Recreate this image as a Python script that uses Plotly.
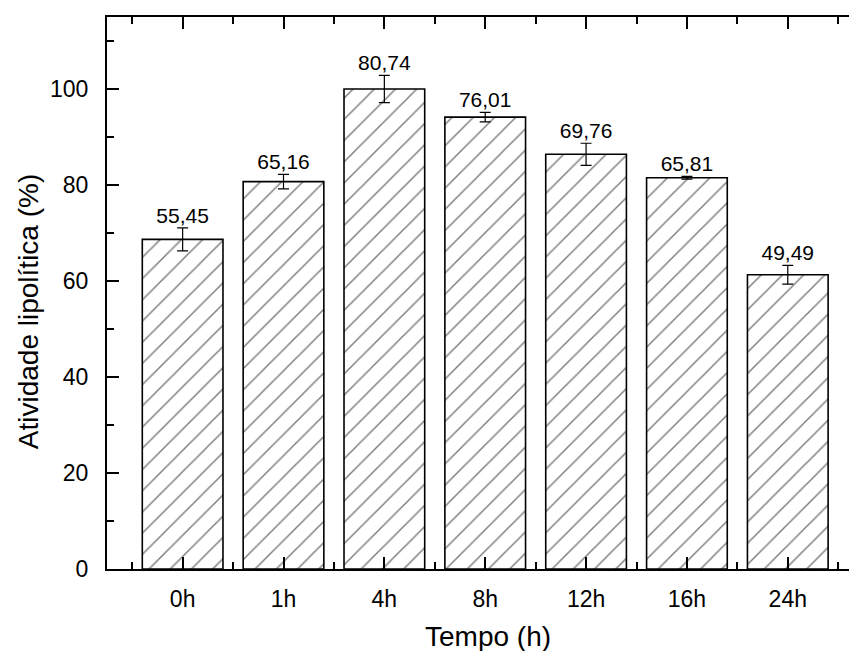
import plotly.graph_objects as go

categories = ["0h", "1h", "4h", "8h", "12h", "16h", "24h"]
values = [68.68, 80.70, 100.0, 94.14, 86.40, 81.51, 61.30]
errors = [2.4, 1.5, 2.85, 1.0, 2.3, 0.3, 1.95]
labels = ["55,45", "65,16", "80,74", "76,01", "69,76", "65,81", "49,49"]
y_ticks = [0, 20, 40, 60, 80, 100]
x_title = "Tempo (h)"
y_title = "Atividade lipolítica (%)"

xpos = list(range(len(categories)))
FONT = "Arial, Liberation Sans, sans-serif"

fig = go.Figure()
fig.add_trace(go.Bar(
    x=xpos, y=values, width=0.8,
    marker=dict(color="white", line=dict(color="black", width=1.6),
                pattern=dict(shape="/", fgcolor="#000000", bgcolor="white",
                             size=15, solidity=0.1)),
    error_y=dict(type="data", array=errors, visible=True, color="black",
                 thickness=1.2, width=5.5),
    showlegend=False, hoverinfo="skip",
))
fig.add_trace(go.Scatter(
    x=xpos, y=[v + e for v, e in zip(values, errors)],
    mode="text", text=labels, textposition="top center",
    textfont=dict(family=FONT, size=21, color="black"),
    showlegend=False, hoverinfo="skip", cliponaxis=False,
))

fig.update_layout(
    width=849, height=651,
    margin=dict(l=107, r=0, t=17, b=82, autoexpand=False),
    paper_bgcolor="white", plot_bgcolor="white",
    font=dict(family=FONT, color="black"),
    annotations=[
        dict(text=x_title, xref="paper", yref="paper", x=0.5135, y=-0.123,
             xanchor="center", yanchor="middle", showarrow=False,
             font=dict(size=28, family=FONT, color="black")),
        dict(text=y_title, xref="paper", yref="paper", x=-0.1065, y=0.467,
             xanchor="center", yanchor="middle", showarrow=False, textangle=-90,
             font=dict(size=28, family=FONT, color="black")),
    ],
)
fig.update_xaxes(
    range=[-0.75, 6.607], automargin=False,
    tickmode="array", tickvals=xpos, ticktext=categories,
    ticks="inside", ticklen=12, tickwidth=2, tickcolor="black",
    minor=dict(tickmode="array", tickvals=[i + 0.5 for i in range(-1, 7)],
               ticks="inside", ticklen=7, tickwidth=2, tickcolor="black"),
    showline=True, linewidth=2, linecolor="black", mirror="ticks",
    showgrid=False, zeroline=False,
    tickfont=dict(size=23, family=FONT),
    ticklabelstandoff=8,
)
fig.update_yaxes(
    range=[0, 115], automargin=False,
    tickmode="array", tickvals=y_ticks,
    ticks="inside", ticklen=12, tickwidth=2, tickcolor="black",
    minor=dict(tickmode="array", tickvals=[10, 30, 50, 70, 90, 110],
               ticks="inside", ticklen=7, tickwidth=2, tickcolor="black"),
    showline=True, linewidth=2, linecolor="black", mirror=False,
    showgrid=False, zeroline=False,
    tickfont=dict(size=23, family=FONT),
    ticklabelstandoff=12,
)

fig.write_html(
    "out.html",
    config={"displayModeBar": False},
    post_script="document.body.style.margin='0';document.body.style.overflow='hidden';",
)
